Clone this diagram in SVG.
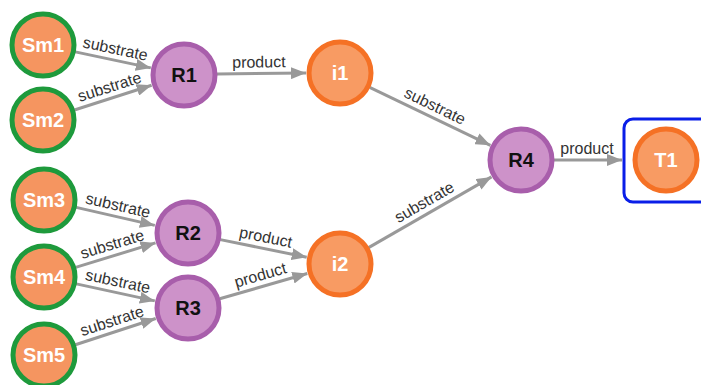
<svg xmlns="http://www.w3.org/2000/svg" width="701" height="385" viewBox="0 0 701 385">
<style>
.sm{fill:#f59560;stroke:#1e9a3c;stroke-width:5}
.rx{fill:#cd92c9;stroke:#a85eab;stroke-width:5}
.im{fill:#f89b63;stroke:#f57125;stroke-width:5}
.nl{font-family:"Liberation Sans",Arial,sans-serif;font-weight:bold;font-size:20px;text-anchor:middle}
.w{fill:#ffffff}
.k{fill:#111111}
.e{stroke:#999999;stroke-width:3;fill:none;marker-end:url(#ah)}
.el{font-family:"Liberation Sans",Arial,sans-serif;font-size:16px;fill:#333333;text-anchor:middle}
</style>
<defs>
<marker id="ah" markerUnits="userSpaceOnUse" markerWidth="16" markerHeight="12" refX="15" refY="6" orient="auto">
<path d="M0,0 L15,6 L0,12 z" fill="#999999"/>
</marker>
</defs>
<rect width="701" height="385" fill="#ffffff"/>
<g id="edges">
<line class="e" x1="75.3" y1="51.9" x2="150.8" y2="67.9"/>
<text class="el" transform="translate(113,59.9) rotate(12)" y="-6">substrate</text>
<line class="e" x1="74.4" y1="110" x2="151.6" y2="85.3"/>
<text class="el" transform="translate(113,97.7) rotate(-17.7)" y="-6">substrate</text>
<line class="e" x1="217" y1="74" x2="306" y2="73"/>
<text class="el" transform="translate(259,73.5) rotate(-0.6)" y="-6">product</text>
<line class="e" x1="369.7" y1="87.3" x2="490.4" y2="145.3"/>
<text class="el" transform="translate(430,116.3) rotate(25.7)" y="-6">substrate</text>
<line class="e" x1="554" y1="160" x2="622" y2="160"/>
<text class="el" transform="translate(587,160)" y="-6">product</text>
<line class="e" x1="76.2" y1="207.4" x2="154.8" y2="225.4"/>
<text class="el" transform="translate(115.5,216.4) rotate(12.9)" y="-6">substrate</text>
<line class="e" x1="75.6" y1="267.4" x2="155.5" y2="242.9"/>
<text class="el" transform="translate(115.5,255) rotate(-17)" y="-6">substrate</text>
<line class="e" x1="76.3" y1="283.9" x2="154.8" y2="300.9"/>
<text class="el" transform="translate(115.5,292.4) rotate(12.1)" y="-6">substrate</text>
<line class="e" x1="75.4" y1="344.8" x2="155.7" y2="318.5"/>
<text class="el" transform="translate(115.5,331.7) rotate(-18.1)" y="-6">substrate</text>
<line class="e" x1="220.3" y1="239.6" x2="306.7" y2="257.2"/>
<text class="el" transform="translate(263.5,248.4) rotate(11.5)" y="-6">product</text>
<line class="e" x1="219.7" y1="298.8" x2="307.3" y2="273.5"/>
<text class="el" transform="translate(263.5,286) rotate(-16.1)" y="-6">product</text>
<line class="e" x1="368.6" y1="247.6" x2="491.5" y2="176.9"/>
<text class="el" transform="translate(430,212) rotate(-29.9)" y="-6">substrate</text>
</g>
<g id="Sm1"><circle class="sm" cx="43" cy="45" r="31"/><text class="nl w" x="43" y="52">Sm1</text></g>
<g id="Sm2"><circle class="sm" cx="43" cy="120" r="31"/><text class="nl w" x="43" y="127">Sm2</text></g>
<g id="Sm3"><circle class="sm" cx="44" cy="200" r="31"/><text class="nl w" x="44" y="207">Sm3</text></g>
<g id="Sm4"><circle class="sm" cx="44" cy="277" r="31"/><text class="nl w" x="44" y="284">Sm4</text></g>
<g id="Sm5"><circle class="sm" cx="44" cy="355" r="31"/><text class="nl w" x="44" y="362">Sm5</text></g>
<g id="R1"><circle class="rx" cx="184" cy="75" r="31"/><text class="nl k" x="184" y="82">R1</text></g>
<g id="R2"><circle class="rx" cx="188" cy="233" r="31"/><text class="nl k" x="188" y="240">R2</text></g>
<g id="R3"><circle class="rx" cx="188" cy="308" r="31"/><text class="nl k" x="188" y="315">R3</text></g>
<g id="R4"><circle class="rx" cx="521" cy="160" r="31"/><text class="nl k" x="521" y="167">R4</text></g>
<g id="i1"><circle class="im" cx="340" cy="73" r="31"/><text class="nl w" x="340" y="80">i1</text></g>
<g id="i2"><circle class="im" cx="340" cy="264" r="31"/><text class="nl w" x="340" y="271">i2</text></g>
<g id="T1">
<rect x="624" y="119" width="90" height="83" rx="9" fill="none" stroke="#0a1ee8" stroke-width="3"/>
<circle class="im" cx="666" cy="160" r="31"/><text class="nl w" x="666" y="167">T1</text>
</g>
</svg>
